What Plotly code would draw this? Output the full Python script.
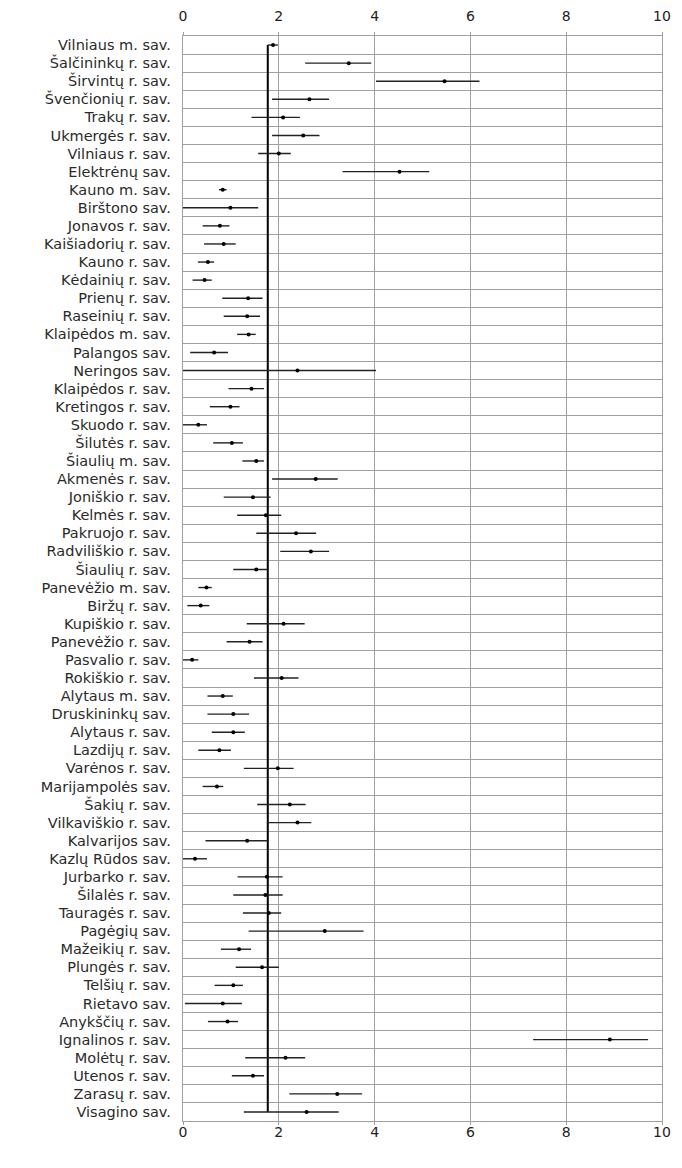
import plotly.graph_objects as go

# savivaldybės (iš viršaus į apačią)
names = [
    "Vilniaus m. sav.", "Šalčininkų r. sav.", "Širvintų r. sav.", "Švenčionių r. sav.",
    "Trakų r. sav.", "Ukmergės r. sav.", "Vilniaus r. sav.", "Elektrėnų sav.",
    "Kauno m. sav.", "Birštono sav.", "Jonavos r. sav.", "Kaišiadorių r. sav.",
    "Kauno r. sav.", "Kėdainių r. sav.", "Prienų r. sav.", "Raseinių r. sav.",
    "Klaipėdos m. sav.", "Palangos sav.", "Neringos sav.", "Klaipėdos r. sav.",
    "Kretingos r. sav.", "Skuodo r. sav.", "Šilutės r. sav.", "Šiaulių m. sav.",
    "Akmenės r. sav.", "Joniškio r. sav.", "Kelmės r. sav.", "Pakruojo r. sav.",
    "Radviliškio r. sav.", "Šiaulių r. sav.", "Panevėžio m. sav.", "Biržų r. sav.",
    "Kupiškio r. sav.", "Panevėžio r. sav.", "Pasvalio r. sav.", "Rokiškio r. sav.",
    "Alytaus m. sav.", "Druskininkų sav.", "Alytaus r. sav.", "Lazdijų r. sav.",
    "Varėnos r. sav.", "Marijampolės sav.", "Šakių r. sav.", "Vilkaviškio r. sav.",
    "Kalvarijos sav.", "Kazlų Rūdos sav.", "Jurbarko r. sav.", "Šilalės r. sav.",
    "Tauragės r. sav.", "Pagėgių sav.", "Mažeikių r. sav.", "Plungės r. sav.",
    "Telšių r. sav.", "Rietavo sav.", "Anykščių r. sav.", "Ignalinos r. sav.",
    "Molėtų r. sav.", "Utenos r. sav.", "Zarasų r. sav.", "Visagino sav.",
]

# įvertis
est = [
    1.88, 3.46, 5.46, 2.64, 2.09, 2.51, 2.00, 4.52,
    0.83, 0.99, 0.77, 0.85, 0.52, 0.45, 1.36, 1.34,
    1.37, 0.65, 2.39, 1.43, 0.99, 0.32, 1.02, 1.53,
    2.77, 1.46, 1.73, 2.36, 2.67, 1.53, 0.49, 0.37,
    2.10, 1.39, 0.19, 2.06, 0.83, 1.05, 1.05, 0.76,
    1.98, 0.71, 2.23, 2.39, 1.34, 0.25, 1.75, 1.72,
    1.79, 2.96, 1.17, 1.65, 1.05, 0.83, 0.93, 8.91,
    2.14, 1.46, 3.22, 2.58,
]

# apatinė riba
lo = [
    1.77, 2.55, 4.03, 1.86, 1.43, 1.86, 1.57, 3.33,
    0.75, 0.00, 0.41, 0.44, 0.31, 0.20, 0.82, 0.85,
    1.13, 0.15, 0.00, 0.95, 0.56, 0.00, 0.63, 1.24,
    1.86, 0.85, 1.13, 1.53, 2.03, 1.05, 0.32, 0.09,
    1.33, 0.91, 0.00, 1.48, 0.51, 0.51, 0.60, 0.32,
    1.27, 0.41, 1.55, 1.75, 0.47, 0.00, 1.14, 1.05,
    1.25, 1.37, 0.79, 1.10, 0.66, 0.04, 0.52, 7.31,
    1.30, 1.02, 2.22, 1.27,
]

# viršutinė riba
hi = [
    1.98, 3.93, 6.19, 3.05, 2.44, 2.85, 2.25, 5.14,
    0.91, 1.57, 0.97, 1.10, 0.65, 0.60, 1.66, 1.61,
    1.52, 0.94, 4.03, 1.69, 1.18, 0.50, 1.25, 1.69,
    3.23, 1.83, 2.05, 2.78, 3.05, 1.79, 0.60, 0.55,
    2.54, 1.66, 0.32, 2.41, 1.04, 1.38, 1.29, 1.00,
    2.31, 0.84, 2.56, 2.68, 1.79, 0.50, 2.08, 2.08,
    2.05, 3.77, 1.42, 2.00, 1.25, 1.23, 1.15, 9.71,
    2.55, 1.69, 3.74, 3.25,
]

ref = 1.77  # Lietuvos vidurkis

x_ticks = [0, 2, 4, 6, 8, 10]

rows = list(range(len(names)))
grid = "#a0a0a0"
font = "DejaVu Sans, sans-serif"

fig = go.Figure()

# vertikali vidurkio linija
fig.add_trace(go.Scatter(
    x=[ref, ref], y=[rows[0], rows[-1]], mode="lines",
    line=dict(color="black", width=2), hoverinfo="skip", showlegend=False,
))

fig.add_trace(go.Scatter(
    x=est, y=rows, mode="markers",
    marker=dict(color="black", size=4),
    error_x=dict(
        type="data", symmetric=False,
        array=[h - e for h, e in zip(hi, est)],
        arrayminus=[e - l for e, l in zip(est, lo)],
        color="#222", thickness=1.4, width=0,
    ),
    text=names, showlegend=False,
))

# nematomas pėdsakas viršutinei ašiai
fig.add_trace(go.Scatter(x=[0], y=[0], xaxis="x2", mode="markers",
                         marker=dict(opacity=0), hoverinfo="skip", showlegend=False))

axis_common = dict(
    range=[0, 10], tickvals=x_ticks, showgrid=True, gridcolor=grid, gridwidth=1.3,
    zeroline=False, ticks="outside", ticklen=3, tickcolor=grid, automargin=False,
    tickfont=dict(size=14, color="#222", family=font),
)

# puslapio body turi 8 px paraštę, todėl figūra mažesnė už langą
fig.update_layout(
    width=674, height=1160,
    margin=dict(l=175, r=20, t=28, b=47),
    plot_bgcolor="white", paper_bgcolor="white",
    font=dict(family=font, color="#222"),
    xaxis=dict(**axis_common, side="bottom", showline=True, linecolor=grid,
               linewidth=1.3, mirror=True, ticklabelstandoff=-5),
    xaxis2=dict(**axis_common, side="top", overlaying="x", anchor="y",
                ticklabelstandoff=5),
    yaxis=dict(
        range=[len(names) - 0.5, -0.5], tickmode="array", tickvals=rows, ticktext=names,
        showgrid=False, zeroline=False, ticks="", ticklabelstandoff=8, automargin=False,
        tickfont=dict(size=14.5, color="#2a2a2a", family=font),
        showline=True, linecolor=grid, linewidth=1.3, mirror=True,
        minor=dict(tickmode="linear", tick0=0.5, dtick=1, showgrid=True,
                   gridcolor=grid, gridwidth=1.3, ticks=""),
    ),
)

fig.write_html("out.html")
